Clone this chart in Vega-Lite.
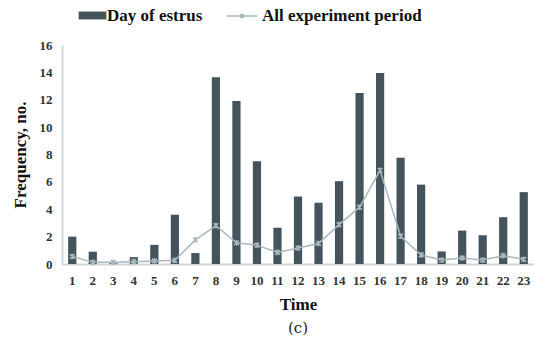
{
  "$schema": "https://vega.github.io/schema/vega-lite/v6.json",
  "autosize": {"type": "none"},
  "width": 472,
  "height": 219,
  "padding": {"left": 62, "top": 45, "right": 0, "bottom": 78},
  "background": "white",
  "config": {
    "view": {"stroke": null},
    "font": "Liberation Serif",
    "axis": {"labelFont": "Liberation Serif", "titleFont": "Liberation Serif", "labelFontWeight": "bold", "titleFontWeight": "bold", "labelColor": "#333333", "titleColor": "#111111", "grid": false, "ticks": false, "domainColor": "#cdd6d8", "domainWidth": 2, "labelOverlap": false}
  },
  "title": {"text": "(c)", "orient": "bottom", "font": "DejaVu Serif", "fontSize": 15, "fontWeight": "normal", "color": "#222222", "offset": 9},
  "resolve": {"axis": {"y": "independent"}},
  "data": {"values": [
    {"t": 1, "estrus": 2.0, "all": 0.55},
    {"t": 2, "estrus": 0.9, "all": 0.12},
    {"t": 3, "estrus": 0.05, "all": 0.12},
    {"t": 4, "estrus": 0.5, "all": 0.17},
    {"t": 5, "estrus": 1.4, "all": 0.22},
    {"t": 6, "estrus": 3.6, "all": 0.27},
    {"t": 7, "estrus": 0.8, "all": 1.76},
    {"t": 8, "estrus": 13.65, "all": 2.8},
    {"t": 9, "estrus": 11.9, "all": 1.55},
    {"t": 10, "estrus": 7.5, "all": 1.38},
    {"t": 11, "estrus": 2.65, "all": 0.85},
    {"t": 12, "estrus": 4.93, "all": 1.17},
    {"t": 13, "estrus": 4.47, "all": 1.5},
    {"t": 14, "estrus": 6.05, "all": 2.88},
    {"t": 15, "estrus": 12.5, "all": 4.15},
    {"t": 16, "estrus": 13.95, "all": 6.84},
    {"t": 17, "estrus": 7.76, "all": 2.03},
    {"t": 18, "estrus": 5.8, "all": 0.66},
    {"t": 19, "estrus": 0.92, "all": 0.29},
    {"t": 20, "estrus": 2.44, "all": 0.44},
    {"t": 21, "estrus": 2.1, "all": 0.29},
    {"t": 22, "estrus": 3.42, "all": 0.61},
    {"t": 23, "estrus": 5.25, "all": 0.34}
  ]},
  "encoding": {
    "x": {"field": "t", "type": "ordinal", "scale": {"paddingInner": 0.6, "paddingOuter": 0.3},
      "axis": {"title": "Time", "labelAngle": 0, "labelFontSize": 13, "titleFontSize": 17, "labelPadding": 10, "titlePadding": 9}}
  },
  "layer": [
    {
      "mark": {"type": "bar"},
      "encoding": {
        "y": {"field": "estrus", "type": "quantitative", "scale": {"domain": [0, 16], "nice": false},
          "axis": {"title": "Frequency, no.", "orient": "left", "values": [0, 2, 4, 6, 8, 10, 12, 14, 16], "labelOverlap": false, "labelFontSize": 13, "titleFontSize": 17, "labelPadding": 10, "titlePadding": 10}},
        "fill": {"datum": "Day of estrus", "type": "nominal",
          "scale": {"domain": ["Day of estrus"], "range": ["#45545c"]},
          "legend": {"orient": "none", "legendX": 22, "legendY": -38, "title": null, "labelFont": "Liberation Serif", "labelFontWeight": "bold", "labelFontSize": 17, "labelColor": "#111111", "labelOffset": 6, "symbolType": "M-1.75,-0.5H1.75V0.5H-1.75Z", "symbolSize": 250, "symbolStrokeWidth": 0}}
      }
    },
    {
      "mark": {"type": "line", "strokeWidth": 1.5},
      "encoding": {
        "y": {"field": "all", "type": "quantitative", "axis": {"orient": "left", "labels": false, "domain": false, "ticks": false, "title": null}},
        "stroke": {"datum": "All experiment period", "type": "nominal",
          "scale": {"domain": ["All experiment period"], "range": ["#a8b8bc"]},
          "legend": {"orient": "none", "legendX": 164, "legendY": -45, "title": null, "labelFont": "Liberation Serif", "labelFontWeight": "bold", "labelFontSize": 17, "labelColor": "#111111", "symbolType": "M-1,0H1M-0.12,-0.12L0.12,0.12M-0.12,0.12L0.12,-0.12M0,-0.15V0.15", "symbolSize": 900, "symbolStrokeWidth": 1.5}}
      }
    },
    {
      "mark": {"type": "point", "shape": "M-1,-1L1,1M-1,1L1,-1M0,-1.2V1.2", "filled": false, "size": 22, "strokeWidth": 1.5, "color": "#a8b8bc", "opacity": 1},
      "encoding": {
        "y": {"field": "all", "type": "quantitative", "axis": {"orient": "left", "labels": false, "domain": false, "ticks": false, "title": null}}
      }
    }
  ]
}
